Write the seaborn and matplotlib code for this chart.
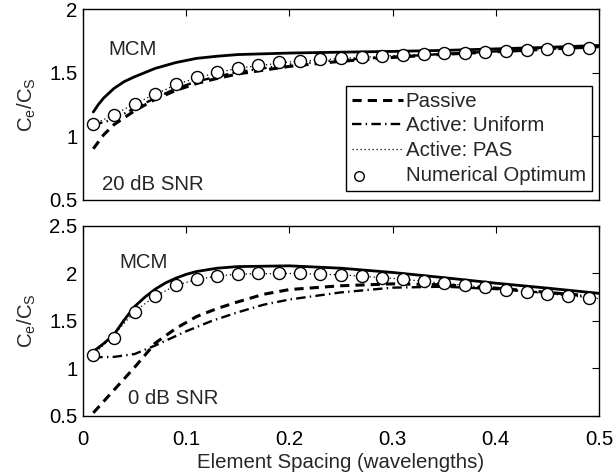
import matplotlib
matplotlib.use("Agg")
import matplotlib.pyplot as plt
from matplotlib.collections import PathCollection
from matplotlib.legend_handler import HandlerPathCollection
import seaborn as sns

# ---- data ----
# optimum markers (same spacing grid for both panels)
x_opt = [0.01, 0.03, 0.05, 0.07, 0.09, 0.11, 0.13, 0.15, 0.17, 0.19, 0.21, 0.23, 0.25,
         0.27, 0.29, 0.31, 0.33, 0.35, 0.37, 0.39, 0.41, 0.43, 0.45, 0.47, 0.49]

# 20 dB SNR panel
top_opt = [1.095, 1.166, 1.255, 1.329, 1.410, 1.465, 1.505, 1.540, 1.563, 1.582, 1.592, 1.605, 1.613,
           1.621, 1.631, 1.639, 1.645, 1.652, 1.658, 1.664, 1.671, 1.677, 1.684, 1.690, 1.697]
top_mcm_x = [0.01, 0.015, 0.02, 0.03, 0.04, 0.05, 0.07, 0.09, 0.11, 0.13, 0.15, 0.2, 0.25, 0.3, 0.35, 0.4, 0.45, 0.5]
top_mcm = [1.19, 1.25, 1.30, 1.376, 1.43, 1.468, 1.534, 1.58, 1.613, 1.630, 1.643, 1.655, 1.662, 1.668, 1.676, 1.688, 1.70, 1.715]
top_x = [0.01, 0.02, 0.03, 0.05, 0.07, 0.09, 0.11, 0.13, 0.15, 0.2, 0.25, 0.3, 0.35, 0.4, 0.45, 0.5]
top_passive = [0.90, 1.01, 1.09, 1.20, 1.29, 1.36, 1.415, 1.455, 1.49, 1.55, 1.59, 1.62, 1.645, 1.665, 1.685, 1.705]
top_uniform = [1.09, 1.11, 1.135, 1.22, 1.30, 1.375, 1.43, 1.47, 1.505, 1.565, 1.60, 1.625, 1.648, 1.668, 1.687, 1.706]
top_pas = [1.095, 1.13, 1.17, 1.255, 1.33, 1.405, 1.46, 1.50, 1.535, 1.585, 1.612, 1.635, 1.652, 1.668, 1.684, 1.70]

# 0 dB SNR panel
bot_opt = [1.142, 1.324, 1.595, 1.760, 1.879, 1.939, 1.974, 1.995, 2.002, 2.000, 2.000, 1.995, 1.985,
           1.974, 1.956, 1.940, 1.916, 1.897, 1.879, 1.852, 1.828, 1.803, 1.785, 1.763, 1.742]
bot_mcm_x = [0.01, 0.02, 0.03, 0.04, 0.05, 0.06, 0.07, 0.08, 0.09, 0.1, 0.11, 0.13, 0.15, 0.2, 0.25, 0.3, 0.35, 0.4, 0.45, 0.5]
bot_mcm = [1.177, 1.26, 1.355, 1.51, 1.65, 1.75, 1.834, 1.90, 1.95, 1.99, 2.02, 2.055, 2.072, 2.08, 2.055, 2.01, 1.955, 1.897, 1.845, 1.79]
bot_pass_x = [0.01, 0.03, 0.05, 0.07, 0.09, 0.11, 0.13, 0.15, 0.175, 0.2, 0.25, 0.3, 0.35, 0.4, 0.45, 0.5]
bot_passive = [0.53, 0.77, 1.01, 1.265, 1.42, 1.545, 1.63, 1.70, 1.78, 1.83, 1.87, 1.89, 1.88, 1.845, 1.80, 1.755]
bot_unif_x = [0.01, 0.03, 0.05, 0.07, 0.1, 0.125, 0.15, 0.175, 0.2, 0.25, 0.3, 0.35, 0.4, 0.45, 0.5]
bot_uniform = [1.115, 1.12, 1.15, 1.24, 1.39, 1.50, 1.59, 1.67, 1.725, 1.80, 1.85, 1.86, 1.835, 1.795, 1.75]
bot_pas_x = [0.01, 0.03, 0.05, 0.07, 0.09, 0.11, 0.13, 0.15, 0.2, 0.25, 0.3, 0.35, 0.4, 0.45, 0.5]
bot_pas = [1.142, 1.35, 1.60, 1.76, 1.875, 1.935, 1.972, 1.993, 2.0, 1.985, 1.948, 1.897, 1.84, 1.785, 1.735]

# axis ticks / labels
x_ticks = [0, 0.1, 0.2, 0.3, 0.4, 0.5]
x_ticklabels = ["0", "0.1", "0.2", "0.3", "0.4", "0.5"]
top_yticks = [0.5, 1, 1.5, 2]
top_yticklabels = ["0.5", "1", "1.5", "2"]
bot_yticks = [0.5, 1, 1.5, 2, 2.5]
bot_yticklabels = ["0.5", "1", "1.5", "2", "2.5"]
legend_labels = ["Passive", "Active: Uniform", "Active: PAS", "Numerical Optimum"]

FS = 14.7


class LeftMarkerHandler(HandlerPathCollection):
    # matlab puts the legend marker near the left of the handle slot
    def get_xdata(self, legend, xdescent, ydescent, width, height, fontsize):
        xm = [-xdescent + 0.14 * width]
        return xm, xm


def draw_panel(ax, mcm_x, mcm, pass_x, passive, unif_x, uniform, pas_x, pas, opt, labels=None):
    if labels is None:
        labels = [None] * 4
    sns.lineplot(x=mcm_x, y=mcm, ax=ax, color="black", linewidth=2.0, zorder=2)
    sns.lineplot(x=pass_x, y=passive, ax=ax, color="black", linewidth=2.2,
                 linestyle=(0, (3, 2)), label=labels[0], zorder=2)
    sns.lineplot(x=unif_x, y=uniform, ax=ax, color="black", linewidth=1.7,
                 linestyle=(0, (4, 1.8, 0.6, 1.8)), label=labels[1], zorder=2)
    sns.lineplot(x=pas_x, y=pas, ax=ax, color="black", linewidth=0.9,
                 linestyle=(0, (1, 2.2)), label=labels[2], zorder=2)
    sns.scatterplot(x=x_opt, y=opt, ax=ax, marker="o", s=75, facecolor="white",
                    edgecolor="black", linewidth=1.0, label=labels[3], zorder=3)

    ax.set_xlim(0, 0.5)
    ax.set_xticks(x_ticks)
    ax.tick_params(direction="in", top=True, right=True, length=5, width=0.8,
                   labelsize=FS, colors="black")
    ax.tick_params(axis="y", pad=4)
    ax.tick_params(axis="x", pad=10)
    for sp in ax.spines.values():
        sp.set_visible(True)
        sp.set_color("black")
        sp.set_linewidth(1.0)
    ax.set_ylabel(r"C$_\mathregular{e}$/C$_\mathregular{S}$", fontsize=FS, labelpad=8)


def main():
    # 1. Styling
    sns.set_theme(style="white")
    plt.rcParams["font.family"] = ["Liberation Sans", "DejaVu Sans"]
    plt.rcParams["mathtext.default"] = "regular"

    fig = plt.figure(figsize=(6.16, 4.72), dpi=100)
    ax_top = fig.add_axes([0.1347, 0.5773, 0.8377, 0.403])
    ax_bot = fig.add_axes([0.1347, 0.1193, 0.8377, 0.4019])

    # 2. Top panel: 20 dB SNR
    draw_panel(ax_top, top_mcm_x, top_mcm, top_x, top_passive, top_x, top_uniform,
               top_x, top_pas, top_opt, labels=legend_labels)
    ax_top.set_ylim(0.5, 2)
    ax_top.set_yticks(top_yticks)
    ax_top.set_yticklabels(top_yticklabels)
    ax_top.set_xticklabels([])
    ax_top.set_xlabel("")
    ax_top.text(0.0242, 1.64, "MCM", fontsize=FS, va="baseline")
    ax_top.text(0.0181, 0.574, "20 dB SNR", fontsize=FS, va="baseline")

    leg = ax_top.legend(loc="lower right", bbox_to_anchor=(0.9864, 0.0447), borderaxespad=0,
                        fontsize=FS, frameon=True, fancybox=False, framealpha=1,
                        edgecolor="black", handlelength=2.5, handletextpad=0.12,
                        labelspacing=0.28, borderpad=0.3, scatterpoints=1, markerscale=0.8,
                        handler_map={PathCollection: LeftMarkerHandler()})
    leg.get_frame().set_linewidth(1.0)

    # 3. Bottom panel: 0 dB SNR
    draw_panel(ax_bot, bot_mcm_x, bot_mcm, bot_pass_x, bot_passive, bot_unif_x, bot_uniform,
               bot_pas_x, bot_pas, bot_opt)
    ax_bot.set_ylim(0.5, 2.5)
    ax_bot.set_yticks(bot_yticks)
    ax_bot.set_yticklabels(bot_yticklabels)
    ax_bot.set_xticklabels(x_ticklabels)
    ax_bot.set_xlabel("Element Spacing (wavelengths)", fontsize=FS, labelpad=3)
    ax_bot.text(0.0355, 2.055, "MCM", fontsize=FS, va="baseline")
    ax_bot.text(0.0436, 0.623, "0 dB SNR", fontsize=FS, va="baseline")
    if ax_bot.get_legend() is not None:
        ax_bot.get_legend().remove()

    fig.savefig("out.png", dpi=100)


if __name__ == "__main__":
    main()
